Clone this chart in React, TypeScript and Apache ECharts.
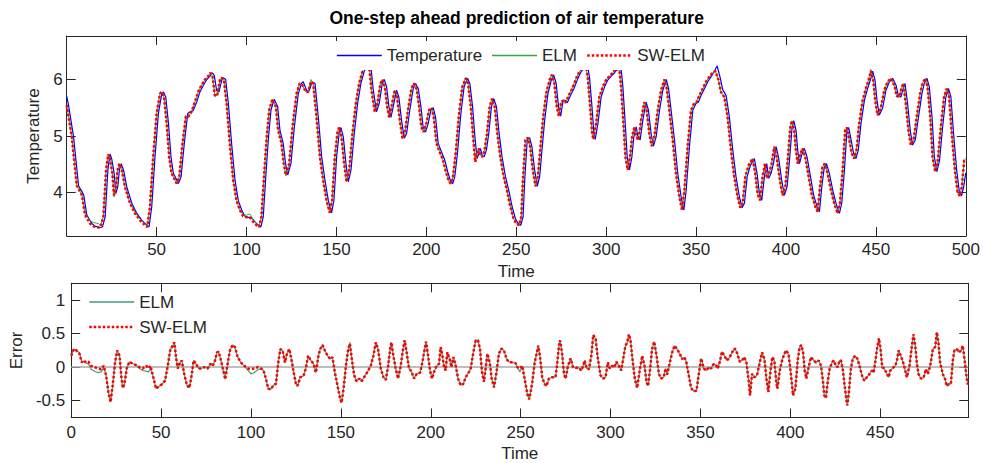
import React, { useEffect, useRef } from 'react';
import * as echarts from 'echarts';

// ---------- DATA ----------
const predTime = [
  0, 2.8, 5.6, 7.4, 8.5, 10.2, 13, 14.8, 17.6, 18.9,
  20.4, 21.9, 23.1, 24, 25.4, 26.3, 27.4, 28.3, 29.3, 30.6,
  32.4, 35.2, 38, 40.7, 43.5, 44.8, 46.3, 48.1, 50, 51.9,
  52.8, 54.1, 55.6, 57, 58.3, 60.2, 61.1, 62.6, 64.4, 66.3,
  67.6, 69.4, 71.3, 73.1, 75, 76.9, 78.7, 80, 81.1, 82.4,
  83.7, 85.2, 86.1, 87.4, 88.9, 90.7, 92.6, 94.4, 96.3, 98.1,
  100, 101.9, 103.7, 105.6, 107, 108.3, 109.6, 111.1, 112.6, 114.4,
  116.3, 117.6, 119.4, 120.7, 121.9, 123.7, 125.6, 127.8, 129.6, 131,
  133, 134.3, 135.8, 137.1, 138.9, 140.8, 142.6, 144.5, 146.3, 147.6,
  149.1, 150.6, 151.5, 152.8, 154.3, 155.6, 157.1, 158.9, 160.8, 162.6,
  164.5, 165.8, 168.2, 169.5, 171.3, 172.8, 174.5, 175.6, 176.9, 178.2,
  179.3, 180.6, 182.4, 183.7, 185.2, 186.7, 188, 189.8, 191.7, 193,
  194.5, 196, 197.2, 198.5, 200, 201.5, 202.8, 204.1, 205.6, 207.4,
  209.3, 211.1, 212.6, 213.7, 214.8, 216.3, 218.2, 220, 221.9, 223.2,
  224.7, 226, 227.2, 228.2, 229.1, 230, 231.1, 232.4, 233.7, 235.2,
  236.5, 238, 239.5, 241.1, 243, 244.8, 246.7, 248.5, 250, 251.5,
  252.8, 253.7, 255.1, 256.4, 257.7, 259.2, 260.7, 262, 263.3, 264.8,
  266.6, 268.5, 269.8, 271.2, 272.5, 273.7, 274.9, 276.2, 277.4, 279.2,
  281.1, 283.3, 285.1, 287, 288.8, 289.8, 291.1, 292.2, 292.9, 294.4,
  296.2, 298.1, 299.9, 301.8, 303.7, 305.5, 307.4, 308.3, 309.6, 310.7,
  312, 313.3, 314.4, 315.7, 316.6, 317.9, 319.4, 321.2, 322.5, 324,
  325.3, 326.8, 328.7, 330.5, 332.4, 333.7, 335.1, 337, 338.8, 340.7,
  342.2, 343.5, 345.3, 347.2, 349, 350.3, 351.8, 353.7, 355.5, 357.4,
  359.2, 360.7, 362.5, 363.8, 365.7, 367.5, 369.4, 371.2, 373.1, 374.6,
  375.9, 377.4, 379.2, 381.4, 382.9, 384.2, 385.5, 387, 388.3, 389.4,
  390.7, 392, 393.5, 394.8, 396.6, 398.1, 399.6, 401.1, 402.4, 403.3,
  404.6, 405.5, 406.5, 407.7, 409.2, 410.7, 412.6, 414.4, 416.3, 417.6,
  418.9, 420.3, 421.5, 423.1, 425, 426.8, 428.7, 430, 431.5, 432.9,
  433.9, 435.2, 436.6, 437.9, 439.2, 440.7, 442.6, 444.4, 445.9, 447.2,
  448.5, 449.6, 450.9, 452.7, 454.6, 456.5, 458.3, 460.2, 461.5, 462.9,
  464.2, 465.2, 466.6, 468.1, 469.4, 470.9, 472.7, 474.6, 475.9, 477.4,
  478.7, 480.2, 481.5, 482.9, 484.4, 486.1, 487.9, 489.4, 490.7, 492.2,
  493.9, 495.4, 496.6, 497.8, 499.1, 500
];

const swelmTemp = [
  5.55, 4.99, 4.12, 4.02, 3.95, 3.60, 3.45, 3.40, 3.38, 3.39,
  3.57, 4.40, 4.68, 4.60, 4.34, 3.95, 4.10, 4.40, 4.51, 4.40,
  4.10, 3.81, 3.63, 3.51, 3.42, 3.39, 3.75, 4.63, 5.40, 5.75,
  5.78, 5.69, 5.22, 4.63, 4.34, 4.22, 4.16, 4.28, 4.87, 5.35,
  5.34, 5.43, 5.60, 5.78, 5.90, 6.00, 6.06, 6.12, 6.05, 5.71,
  5.72, 5.99, 6.03, 6.00, 5.58, 4.87, 4.22, 3.86, 3.69, 3.58,
  3.56, 3.56, 3.48, 3.42, 3.39, 3.57, 4.22, 4.93, 5.46, 5.65,
  5.52, 5.10, 4.87, 4.51, 4.31, 4.51, 5.16, 5.75, 5.93, 5.90,
  5.78, 5.78, 5.96, 5.93, 5.34, 4.63, 4.22, 3.86, 3.64, 3.86,
  4.63, 5.07, 5.15, 4.99, 4.51, 4.19, 4.40, 5.04, 5.58, 5.93,
  6.15, 6.22, 6.22, 5.81, 5.43, 5.58, 5.93, 6.00, 5.87, 5.52,
  5.33, 5.52, 5.81, 5.69, 5.28, 4.96, 5.04, 5.46, 5.84, 5.93,
  5.84, 5.52, 5.16, 5.07, 5.22, 5.46, 5.50, 5.34, 4.87, 4.72,
  4.57, 4.34, 4.19, 4.16, 4.28, 4.69, 5.40, 5.87, 6.02, 5.93,
  5.52, 4.99, 4.54, 4.69, 4.78, 4.66, 4.63, 4.75, 5.04, 5.52,
  5.66, 5.52, 5.04, 4.63, 4.28, 4.04, 3.75, 3.54, 3.45, 3.42,
  3.57, 4.22, 4.93, 4.97, 4.81, 4.40, 4.11, 4.28, 4.75, 5.28,
  5.75, 5.99, 6.08, 5.93, 5.52, 5.35, 5.60, 5.63, 5.59, 5.72,
  5.84, 6.02, 6.14, 6.22, 6.22, 6.02, 5.52, 5.04, 4.94, 5.22,
  5.69, 5.87, 5.99, 6.06, 6.12, 6.20, 6.16, 5.87, 5.22, 4.63,
  4.40, 4.63, 4.99, 5.16, 5.00, 4.93, 5.28, 5.60, 5.46, 5.04,
  4.82, 4.99, 5.46, 5.81, 6.00, 5.84, 5.46, 4.93, 4.34, 3.92,
  3.69, 4.04, 4.81, 5.46, 5.58, 5.60, 5.72, 5.84, 5.96, 6.05,
  6.12, 6.15, 5.99, 5.78, 5.69, 5.34, 4.75, 4.28, 3.92, 3.73,
  3.81, 4.28, 4.48, 4.60, 4.34, 3.98, 3.86, 4.28, 4.51, 4.25,
  4.34, 4.51, 4.81, 4.63, 4.22, 3.95, 4.10, 4.63, 5.16, 5.27,
  5.10, 4.75, 4.51, 4.66, 4.78, 4.63, 4.28, 3.95, 3.75, 3.66,
  4.10, 4.45, 4.51, 4.34, 4.04, 3.81, 3.63, 3.81, 4.40, 5.10,
  5.15, 4.93, 4.69, 4.60, 4.75, 5.22, 5.63, 5.84, 5.99, 6.15,
  5.99, 5.63, 5.37, 5.49, 5.81, 5.96, 6.02, 5.90, 5.71, 5.69,
  5.84, 5.93, 5.58, 5.10, 4.84, 4.93, 5.34, 5.75, 5.93, 6.02,
  5.87, 5.34, 4.63, 4.37, 4.57, 5.16, 5.69, 5.84, 5.69, 5.04,
  4.40, 4.01, 3.94, 4.10, 4.57, 4.60
];

const elmTemp = [
  5.55, 4.99, 4.12, 4.02, 3.95, 3.62, 3.50, 3.47, 3.45, 3.42,
  3.57, 4.40, 4.66, 4.60, 4.34, 3.92, 4.10, 4.40, 4.51, 4.40,
  4.10, 3.81, 3.65, 3.53, 3.44, 3.40, 3.75, 4.63, 5.40, 5.75,
  5.78, 5.69, 5.22, 4.63, 4.34, 4.22, 4.16, 4.28, 4.87, 5.35,
  5.34, 5.43, 5.60, 5.78, 5.90, 6.00, 6.06, 6.12, 6.05, 5.71,
  5.72, 5.99, 6.03, 6.00, 5.58, 4.87, 4.22, 3.86, 3.69, 3.60,
  3.60, 3.62, 3.52, 3.44, 3.40, 3.57, 4.22, 4.93, 5.46, 5.65,
  5.52, 5.10, 4.87, 4.51, 4.29, 4.51, 5.16, 5.75, 5.93, 5.90,
  5.78, 5.78, 6.00, 5.93, 5.34, 4.63, 4.22, 3.86, 3.64, 3.86,
  4.63, 5.07, 5.15, 4.99, 4.51, 4.19, 4.40, 5.04, 5.58, 5.93,
  6.15, 6.22, 6.22, 5.81, 5.43, 5.58, 5.93, 6.00, 5.87, 5.52,
  5.33, 5.52, 5.81, 5.69, 5.28, 4.96, 5.04, 5.46, 5.84, 5.93,
  5.84, 5.52, 5.16, 5.07, 5.22, 5.46, 5.50, 5.34, 4.87, 4.72,
  4.57, 4.34, 4.19, 4.16, 4.28, 4.69, 5.40, 5.87, 6.04, 5.93,
  5.52, 4.99, 4.54, 4.69, 4.78, 4.66, 4.63, 4.75, 5.04, 5.52,
  5.66, 5.52, 5.04, 4.63, 4.28, 4.04, 3.75, 3.54, 3.45, 3.42,
  3.57, 4.22, 4.93, 4.97, 4.81, 4.40, 4.11, 4.28, 4.75, 5.28,
  5.75, 5.99, 6.10, 5.93, 5.52, 5.35, 5.60, 5.63, 5.59, 5.72,
  5.84, 6.02, 6.14, 6.22, 6.22, 6.02, 5.52, 5.04, 4.94, 5.22,
  5.69, 5.87, 5.99, 6.06, 6.12, 6.20, 6.16, 5.87, 5.22, 4.63,
  4.40, 4.63, 4.99, 5.16, 5.00, 4.93, 5.28, 5.60, 5.46, 5.04,
  4.82, 4.99, 5.46, 5.81, 6.00, 5.84, 5.46, 4.93, 4.34, 3.92,
  3.69, 4.04, 4.81, 5.46, 5.58, 5.60, 5.72, 5.84, 5.96, 6.05,
  6.12, 6.15, 5.99, 5.78, 5.69, 5.34, 4.75, 4.28, 3.92, 3.73,
  3.81, 4.28, 4.48, 4.60, 4.34, 3.98, 3.86, 4.28, 4.51, 4.25,
  4.34, 4.51, 4.81, 4.63, 4.22, 3.95, 4.10, 4.63, 5.16, 5.27,
  5.10, 4.75, 4.51, 4.66, 4.78, 4.63, 4.28, 3.95, 3.75, 3.66,
  4.10, 4.45, 4.51, 4.34, 4.04, 3.81, 3.63, 3.81, 4.40, 5.10,
  5.15, 4.93, 4.69, 4.60, 4.75, 5.22, 5.63, 5.84, 5.99, 6.18,
  5.99, 5.63, 5.37, 5.49, 5.81, 5.96, 6.02, 5.90, 5.71, 5.69,
  5.84, 5.93, 5.58, 5.10, 4.84, 4.93, 5.34, 5.75, 5.93, 6.02,
  5.87, 5.34, 4.63, 4.37, 4.57, 5.16, 5.69, 5.84, 5.69, 5.04,
  4.40, 4.01, 3.94, 4.10, 4.57, 4.60
];

// measured temperature: [time, value]
const temperature = [
  [0, 5.70], [1, 5.55], [3.8, 4.99], [6.6, 4.12], [8.4, 4.02], [9.5, 3.95], [11.2, 3.60], [14, 3.45], [15.8, 3.40], [18.6, 3.38],
  [19.9, 3.39], [21.4, 3.57], [22.9, 4.40], [24.1, 4.68], [25, 4.60], [26.4, 4.34], [27.3, 3.98], [28.4, 4.10], [29.3, 4.40], [30.3, 4.51],
  [31.6, 4.40], [33.4, 4.10], [36.2, 3.81], [39, 3.63], [41.7, 3.51], [44.5, 3.42], [45.8, 3.39], [47.3, 3.75], [49.1, 4.63], [51, 5.40],
  [52.9, 5.75], [53.8, 5.78], [55.1, 5.69], [56.6, 5.22], [58, 4.63], [59.3, 4.34], [61.2, 4.22], [62.1, 4.16], [63.6, 4.28], [65.4, 4.87],
  [67.3, 5.40], [68.6, 5.43], [70.4, 5.45], [72.3, 5.60], [74.1, 5.78], [76, 5.90], [77.9, 6.00], [79.7, 6.06], [81, 6.12], [82.1, 6.07],
  [83.4, 5.80], [84.7, 5.78], [86.2, 5.99], [87.1, 6.03], [88.4, 6.00], [89.9, 5.58], [91.7, 4.87], [93.6, 4.22], [95.4, 3.86], [97.3, 3.69],
  [99.1, 3.58], [101, 3.56], [102.9, 3.55], [104.7, 3.48], [106.6, 3.42], [108, 3.39], [109.3, 3.57], [110.6, 4.22], [112.1, 4.93], [113.6, 5.46],
  [115.4, 5.65], [117.3, 5.52], [118.6, 5.10], [120.4, 4.87], [121.7, 4.51], [122.9, 4.31], [124.7, 4.51], [126.6, 5.16], [128.8, 5.75], [130.6, 5.93],
  [131.5, 5.96], [133.5, 5.80], [134.8, 5.80], [136.5, 5.96], [138.1, 5.93], [139.9, 5.34], [141.8, 4.63], [143.6, 4.22], [145.5, 3.86], [147.3, 3.64],
  [148.6, 3.86], [150.1, 4.63], [151.6, 5.07], [152.5, 5.15], [153.8, 4.99], [155.3, 4.51], [156.6, 4.19], [158.1, 4.40], [159.9, 5.04], [161.8, 5.58],
  [163.6, 5.93], [165.5, 6.15], [166.8, 6.22], [169.2, 6.22], [170.5, 5.81], [172.3, 5.43], [173.8, 5.58], [175.5, 5.93], [176.6, 6.00], [177.9, 5.87],
  [179.2, 5.52], [180.3, 5.33], [181.6, 5.52], [183.4, 5.81], [184.7, 5.69], [186.2, 5.28], [187.7, 4.96], [189, 5.04], [190.8, 5.46], [192.7, 5.84],
  [194, 5.93], [195.5, 5.84], [197, 5.52], [198.2, 5.16], [199.5, 5.07], [201, 5.22], [202.5, 5.46], [203.8, 5.50], [205.1, 5.34], [206.6, 4.87],
  [208.4, 4.72], [210.3, 4.57], [212.1, 4.34], [213.6, 4.19], [214.7, 4.16], [215.8, 4.28], [217.3, 4.69], [219.2, 5.40], [221, 5.87], [222.9, 6.02],
  [224.2, 5.93], [225.7, 5.52], [227, 4.99], [228.2, 4.60], [229.2, 4.69], [230.1, 4.78], [231, 4.66], [232.1, 4.63], [233.4, 4.75], [234.7, 5.04],
  [236.2, 5.52], [237.5, 5.66], [239, 5.52], [240.5, 5.04], [242.1, 4.63], [244, 4.28], [245.8, 4.04], [247.7, 3.75], [249.5, 3.54], [251, 3.45],
  [252.5, 3.42], [253.8, 3.57], [254.7, 4.22], [256.1, 4.93], [257.4, 4.97], [258.7, 4.81], [260.2, 4.40], [261.7, 4.11], [263, 4.28], [264.3, 4.75],
  [265.8, 5.28], [267.6, 5.75], [269.5, 5.99], [270.8, 6.08], [272.2, 5.93], [273.5, 5.52], [274.7, 5.35], [275.9, 5.60], [277.2, 5.63], [278.4, 5.59],
  [280.2, 5.72], [282.1, 5.84], [284.3, 6.02], [286.1, 6.14], [288, 6.22], [289.8, 6.22], [290.8, 6.02], [292.1, 5.52], [293.2, 5.04], [293.9, 4.94],
  [295.4, 5.22], [297.2, 5.69], [299.1, 5.87], [300.9, 5.99], [302.8, 6.06], [304.7, 6.12], [306.5, 6.20], [308.4, 6.16], [309.3, 5.87], [310.6, 5.22],
  [311.7, 4.63], [313, 4.40], [314.3, 4.63], [315.4, 4.99], [316.7, 5.16], [317.6, 5.00], [318.9, 4.93], [320.4, 5.28], [322.2, 5.60], [323.5, 5.46],
  [325, 5.04], [326.3, 4.82], [327.8, 4.99], [329.7, 5.46], [331.5, 5.81], [333.4, 6.00], [334.7, 5.84], [336.1, 5.46], [338, 4.93], [339.8, 4.34],
  [341.7, 3.92], [343.2, 3.69], [344.5, 4.04], [346.3, 4.81], [348.2, 5.46], [350, 5.58], [351.3, 5.60], [352.8, 5.72], [354.7, 5.84], [356.5, 5.96],
  [358.4, 6.05], [360.2, 6.15], [361.7, 6.24], [363.5, 6.02], [364.8, 5.82], [366.7, 5.72], [368.5, 5.34], [370.4, 4.75], [372.2, 4.28], [374.1, 3.92],
  [375.6, 3.73], [376.9, 3.81], [378.4, 4.28], [380.2, 4.48], [382.4, 4.60], [383.9, 4.34], [385.2, 3.98], [386.5, 3.86], [388, 4.28], [389.3, 4.51],
  [390.4, 4.25], [391.7, 4.34], [393, 4.51], [394.5, 4.81], [395.8, 4.63], [397.6, 4.22], [399.1, 3.95], [400.6, 4.10], [402.1, 4.63], [403.4, 5.16],
  [404.3, 5.27], [405.6, 5.10], [406.5, 4.75], [407.5, 4.51], [408.7, 4.66], [410.2, 4.78], [411.7, 4.63], [413.6, 4.28], [415.4, 3.95], [417.3, 3.75],
  [418.6, 3.66], [419.9, 4.10], [421.3, 4.45], [422.5, 4.51], [424.1, 4.34], [426, 4.04], [427.8, 3.81], [429.7, 3.63], [431, 3.81], [432.5, 4.40],
  [433.9, 5.10], [434.9, 5.15], [436.2, 4.93], [437.6, 4.69], [438.9, 4.60], [440.2, 4.75], [441.7, 5.22], [443.6, 5.63], [445.4, 5.84], [446.9, 5.99],
  [448.2, 6.15], [449.5, 5.99], [450.6, 5.63], [451.9, 5.37], [453.7, 5.49], [455.6, 5.81], [457.5, 5.96], [459.3, 6.02], [461.2, 5.90], [462.5, 5.71],
  [463.9, 5.69], [465.2, 5.84], [466.2, 5.93], [467.6, 5.58], [469.1, 5.10], [470.4, 4.84], [471.9, 4.93], [473.7, 5.34], [475.6, 5.75], [476.9, 5.93],
  [478.4, 6.02], [479.7, 5.87], [481.2, 5.34], [482.5, 4.63], [483.9, 4.37], [485.4, 4.57], [487.1, 5.16], [488.9, 5.69], [490.4, 5.84], [491.7, 5.69],
  [493.2, 5.04], [494.9, 4.40], [496.4, 4.01], [497.6, 3.94], [498.8, 4.10], [500, 4.35]
];

const errTime = [
  0, 1.5, 2.8, 4.6, 5.9, 7, 8.3, 9.6, 11.1, 13,
  14.8, 16.7, 18.1, 19.4, 20.7, 21.9, 23.1, 24.4, 25.6, 26.9,
  27.8, 28.7, 29.6, 30.9, 32.4, 34.3, 36.1, 38, 39.8, 41.7,
  43, 44.1, 45.4, 47.2, 49.1, 50.6, 52.2, 53.7, 55.2, 56.5,
  57.4, 58.3, 59.3, 60.6, 61.5, 63, 64.4, 65.7, 67, 68.1,
  69.4, 70.9, 72.2, 74.1, 75.9, 77.4, 78.7, 80, 81.1, 82,
  83.3, 84.6, 85.7, 87, 88.3, 89.8, 91.1, 92.6, 94.4, 96.3,
  98.1, 100, 101.9, 103.7, 105.6, 107, 108.3, 109.6, 111.1, 112.4,
  113.9, 115.2, 116.3, 117.6, 118.9, 120, 121.3, 122.6, 123.7, 125,
  125.9, 127.4, 129.2, 130.5, 131.8, 133.3, 134.8, 136.1, 137.4, 138.5,
  139.8, 141.1, 142.6, 144.1, 145.3, 146.6, 148.1, 149.6, 150.4, 151.5,
  152.8, 154.1, 155, 156.1, 157.4, 158.7, 160.2, 161.5, 162.9, 164.8,
  166.6, 168.1, 169.4, 170.7, 172.2, 173.7, 175, 176.3, 177.4, 178.1,
  179.2, 180.5, 181.8, 183.3, 184.6, 185.5, 186.6, 187.9, 189.2, 190.7,
  192.2, 194.1, 195.3, 196.3, 197.4, 198.5, 199.6, 200.7, 201.8, 203.3,
  204.6, 205.5, 206.5, 207.4, 208.3, 209.2, 210.5, 211.5, 212.6, 213.9,
  215.2, 216.6, 218.1, 219.4, 221.3, 222.2, 223.7, 225, 226.3, 227.4,
  228.5, 229.6, 230.5, 231.5, 232.8, 233.9, 235.2, 236.6, 237.9, 239.2,
  240.7, 242.2, 243.5, 245.4, 247.2, 248.1, 249.6, 250.9, 252.2, 253.7,
  254.8, 256.5, 257.8, 258.9, 259.8, 260.7, 262, 263.3, 264.4, 265.7,
  267.6, 269.4, 270.4, 271.3, 271.9, 273, 274.1, 275, 276.3, 277.8,
  279.1, 280.6, 282.4, 283.7, 284.8, 285.6, 286.7, 288, 289.3, 290.4,
  291.7, 293, 294.4, 295.9, 297.2, 298.5, 299.6, 300.9, 302.2, 303.3,
  304.6, 305.9, 307, 308.3, 309.3, 310.2, 311.1, 312.2, 313.5, 314.8,
  316.1, 317.6, 318.9, 320, 320.9, 322.2, 323.1, 324.3, 325.6, 326.9,
  328.1, 329.6, 330.6, 331.5, 333, 334.3, 335.6, 337, 338.5, 339.8,
  341.1, 342.2, 343.5, 344.8, 346.3, 347.8, 349.1, 350.4, 351.9, 353.3,
  354.6, 355.9, 357.4, 358.9, 359.6, 360.7, 362, 363.3, 364.8, 366.3,
  367.6, 369.1, 370.4, 371.9, 373.1, 374.4, 375.6, 376.9, 377.6, 378.7,
  380, 381.5, 383, 384.3, 385.6, 386.7, 387.8, 388.9, 390, 391.1,
  392.2, 392.8, 394.1, 395.4, 396.7, 397.8, 399.1, 400.4, 401.5, 402.8,
  404.1, 405.2, 406.1, 407.1, 408, 408.9, 410.2, 411.5, 413, 414.3,
  415.8, 417.1, 418.2, 418.9, 419.8, 420.8, 421.9, 423.2, 424.1, 425.4,
  426.3, 427.4, 428.2, 429.3, 430.2, 431.1, 431.7, 432.6, 433.7, 434.8,
  436.1, 437.4, 438.5, 439.8, 441.1, 442.6, 444.1, 445.4, 446.3, 447.2,
  448.2, 449.3, 450.2, 451.1, 452.2, 453.4, 454.7, 455.6, 457.1, 458.4,
  459.3, 460.2, 461.5, 463, 463.9, 464.8, 466.3, 467.4, 468.5, 469.5,
  470.4, 471.3, 472.6, 474.1, 475.4, 476.5, 477.8, 479.3, 480.6, 481.5,
  482.4, 483.3, 484.8, 486.1, 487, 488.3, 489.3, 490.4, 491.3, 492.6,
  493.9, 495, 495.9, 496.9, 497.8, 498.7
];

const swelmErr = [
  0.17, 0.27, 0.25, 0.20, 0.07, 0.10, 0.07, 0.08, 0.02, 0.00,
  -0.02, -0.03, 0.02, -0.12, -0.37, -0.52, -0.27, 0.07, 0.25, 0.17,
  -0.12, -0.31, -0.25, -0.02, 0.08, 0.05, 0.03, 0.00, -0.02, 0.02,
  -0.02, 0.02, -0.12, -0.32, -0.28, -0.25, -0.20, 0.02, 0.27, 0.32,
  0.37, 0.15, -0.02, 0.07, 0.10, -0.12, -0.27, -0.31, -0.12, 0.10,
  0.05, -0.02, -0.02, 0.00, -0.02, 0.05, 0.02, 0.10, 0.22, 0.23,
  0.10, -0.05, -0.18, 0.05, 0.25, 0.33, 0.30, 0.15, 0.07, 0.02,
  -0.02, -0.03, -0.02, 0.00, -0.02, -0.05, -0.17, -0.32, -0.33, -0.27,
  -0.25, 0.07, 0.27, 0.25, 0.07, 0.20, 0.27, 0.10, -0.07, -0.25,
  -0.28, -0.15, -0.13, -0.02, 0.17, 0.10, 0.05, -0.08, 0.15, 0.27,
  0.33, 0.25, 0.17, 0.12, 0.15, -0.07, -0.27, -0.47, -0.53, -0.32,
  0.02, 0.27, 0.35, 0.12, -0.12, -0.21, -0.17, -0.21, -0.15, -0.07,
  0.02, 0.17, 0.37, 0.27, -0.02, -0.15, -0.19, 0.02, 0.27, 0.37,
  0.17, -0.02, -0.17, 0.02, 0.27, 0.40, 0.22, -0.02, -0.06, -0.17,
  -0.10, -0.08, 0.07, 0.22, 0.38, 0.17, -0.05, -0.17, -0.07, 0.02,
  0.05, 0.30, 0.17, 0.00, -0.05, 0.22, 0.12, 0.00, 0.15, 0.02,
  -0.17, -0.27, -0.25, -0.15, -0.07, -0.02, 0.22, 0.40, 0.40, 0.27,
  -0.07, -0.22, -0.02, 0.20, 0.07, -0.17, -0.30, -0.07, 0.20, 0.28,
  0.25, 0.12, 0.08, 0.07, 0.06, 0.00, -0.02, 0.02, -0.17, -0.40,
  -0.48, -0.22, 0.07, 0.20, 0.32, 0.17, -0.15, -0.25, -0.28, -0.17,
  -0.15, -0.15, 0.07, 0.32, 0.40, 0.22, -0.10, -0.17, 0.02, 0.13,
  0.00, -0.01, -0.01, -0.05, 0.02, 0.10, -0.02, -0.03, 0.17, 0.48,
  0.42, 0.12, -0.12, -0.17, -0.15, 0.07, -0.02, 0.02, 0.00, 0.08,
  0.02, -0.05, 0.12, 0.32, 0.37, 0.49, 0.40, 0.12, -0.17, -0.31,
  -0.07, 0.17, 0.02, -0.22, -0.28, 0.02, 0.27, 0.38, 0.17, -0.10,
  -0.17, -0.15, -0.02, -0.11, 0.07, 0.22, 0.32, 0.27, 0.20, 0.12,
  0.15, 0.07, -0.12, -0.31, -0.36, -0.35, -0.10, 0.13, -0.02, -0.05,
  0.00, -0.02, 0.05, 0.02, -0.02, 0.07, 0.23, 0.17, 0.10, 0.15,
  0.22, 0.28, 0.21, 0.08, 0.10, 0.15, 0.07, -0.22, -0.42, -0.10,
  -0.15, -0.12, 0.07, 0.22, 0.12, -0.17, -0.37, -0.07, 0.15, 0.10,
  -0.22, -0.32, -0.05, 0.10, 0.20, 0.25, 0.18, -0.12, -0.42, -0.32,
  0.10, 0.30, 0.33, 0.22, -0.05, -0.17, 0.00, 0.15, 0.10, 0.07,
  0.10, 0.02, -0.22, -0.42, -0.46, -0.22, -0.02, 0.07, 0.10, 0.02,
  0.00, 0.10, 0.10, -0.05, -0.27, -0.47, -0.57, -0.37, -0.02, 0.13,
  0.17, 0.12, 0.02, -0.12, -0.20, -0.15, -0.10, -0.05, -0.08, 0.07,
  0.27, 0.43, 0.27, 0.00, -0.02, -0.08, -0.15, -0.05, -0.01, 0.02,
  0.10, 0.25, 0.17, 0.05, -0.05, -0.15, 0.02, 0.27, 0.49, 0.32,
  0.05, -0.10, -0.17, -0.16, -0.03, -0.10, 0.02, 0.27, 0.30, 0.52,
  0.37, 0.07, -0.10, -0.18, -0.28, -0.25, -0.25, 0.10, 0.25, 0.27,
  0.22, 0.25, 0.32, 0.12, -0.10, -0.26
];

const elmErr = [
  0.17, 0.27, 0.26, 0.21, 0.08, 0.09, 0.06, 0.05, -0.03, -0.06,
  -0.08, -0.07, 0.00, -0.12, -0.37, -0.52, -0.27, 0.07, 0.25, 0.17,
  -0.12, -0.31, -0.25, -0.02, 0.08, 0.05, 0.03, -0.02, -0.05, -0.06,
  -0.07, -0.02, -0.12, -0.32, -0.28, -0.25, -0.20, 0.02, 0.27, 0.32,
  0.37, 0.15, -0.02, 0.07, 0.10, -0.12, -0.27, -0.31, -0.12, 0.10,
  0.05, -0.02, -0.02, 0.00, -0.02, 0.05, 0.02, 0.10, 0.22, 0.23,
  0.10, -0.05, -0.18, 0.05, 0.25, 0.33, 0.30, 0.15, 0.07, 0.02,
  -0.04, -0.10, -0.08, -0.04, -0.02, -0.05, -0.17, -0.32, -0.33, -0.27,
  -0.25, 0.07, 0.27, 0.25, 0.07, 0.20, 0.27, 0.10, -0.07, -0.25,
  -0.28, -0.15, -0.13, -0.02, 0.17, 0.10, 0.05, -0.08, 0.15, 0.27,
  0.33, 0.25, 0.17, 0.12, 0.15, -0.07, -0.27, -0.47, -0.53, -0.32,
  0.02, 0.27, 0.37, 0.12, -0.12, -0.21, -0.17, -0.21, -0.15, -0.07,
  0.02, 0.17, 0.37, 0.27, -0.02, -0.15, -0.19, 0.02, 0.27, 0.37,
  0.17, -0.02, -0.17, 0.02, 0.27, 0.40, 0.22, -0.02, -0.06, -0.17,
  -0.10, -0.08, 0.07, 0.22, 0.38, 0.17, -0.05, -0.17, -0.07, 0.02,
  0.05, 0.30, 0.17, 0.00, -0.05, 0.22, 0.12, 0.00, 0.15, 0.02,
  -0.17, -0.27, -0.25, -0.15, -0.07, -0.02, 0.22, 0.40, 0.40, 0.27,
  -0.07, -0.22, -0.02, 0.20, 0.07, -0.17, -0.30, -0.07, 0.20, 0.28,
  0.25, 0.12, 0.08, 0.07, 0.06, 0.00, -0.07, 0.02, -0.17, -0.40,
  -0.48, -0.22, 0.07, 0.20, 0.32, 0.17, -0.15, -0.25, -0.28, -0.17,
  -0.15, -0.15, 0.07, 0.32, 0.40, 0.22, -0.10, -0.17, 0.02, 0.13,
  0.00, -0.01, -0.01, -0.05, 0.02, 0.10, -0.02, -0.03, 0.17, 0.48,
  0.42, 0.12, -0.12, -0.17, -0.15, 0.07, -0.02, 0.02, 0.00, 0.08,
  0.02, -0.05, 0.12, 0.32, 0.37, 0.49, 0.40, 0.12, -0.17, -0.31,
  -0.07, 0.17, 0.02, -0.22, -0.28, 0.02, 0.27, 0.38, 0.17, -0.10,
  -0.17, -0.15, -0.02, -0.11, 0.07, 0.22, 0.32, 0.27, 0.20, 0.12,
  0.15, 0.07, -0.12, -0.31, -0.36, -0.35, -0.10, 0.13, -0.02, -0.05,
  0.00, -0.02, 0.05, 0.02, -0.02, 0.07, 0.23, 0.17, 0.10, 0.15,
  0.22, 0.28, 0.21, 0.08, 0.10, 0.15, 0.07, -0.22, -0.42, -0.10,
  -0.15, -0.12, 0.07, 0.22, 0.12, -0.17, -0.37, -0.07, 0.15, 0.10,
  -0.22, -0.32, -0.05, 0.10, 0.20, 0.25, 0.18, -0.12, -0.42, -0.32,
  0.10, 0.30, 0.33, 0.22, -0.05, -0.17, 0.00, 0.15, 0.10, 0.07,
  0.10, 0.02, -0.22, -0.42, -0.46, -0.22, -0.02, 0.07, 0.10, 0.02,
  0.00, 0.10, 0.10, -0.05, -0.27, -0.47, -0.57, -0.37, -0.02, 0.13,
  0.17, 0.12, 0.02, -0.12, -0.20, -0.15, -0.10, -0.05, -0.08, 0.07,
  0.27, 0.43, 0.27, 0.00, -0.02, -0.08, -0.15, -0.05, -0.01, 0.02,
  0.10, 0.25, 0.17, 0.05, -0.05, -0.15, 0.02, 0.27, 0.49, 0.32,
  0.05, -0.10, -0.17, -0.16, -0.03, -0.10, 0.02, 0.27, 0.30, 0.52,
  0.37, 0.07, -0.10, -0.18, -0.28, -0.25, -0.25, 0.10, 0.25, 0.27,
  0.22, 0.25, 0.32, 0.12, -0.10, -0.26
];

const topXTicks = [50, 100, 150, 200, 250, 300, 350, 400, 450, 500];
const topYTicks = [4, 5, 6];
const botXTicks = [0, 50, 100, 150, 200, 250, 300, 350, 400, 450];
const botYTicks = [-0.5, 0, 0.5, 1];

const TITLE = 'One-step ahead prediction of air temperature';

// ---------- STYLE ----------
const FONT = '"Liberation Sans", Arial, Helvetica, sans-serif';
const TXT = '#262626';
const AX = '#262626';
const FS = 17;
const BLUE = '#0000ff';
const GREEN_TOP = '#3aa83a';
const GREEN_ERR = '#4a9a74';
const RED = '#ff0000';
const RED_DASH = [2.5, 2];

function pairs(t: number[], v: number[]) {
  return t.map((x, i) => [x, v[i]]);
}

function xAxis(gridIndex: number, max: number, ticks: number[], position: string, labels: boolean, labelMargin: number, nameGap: number) {
  return {
    gridIndex, type: 'value', min: 0, max, position,
    axisLine: { show: true, onZero: false, lineStyle: { color: AX, width: 1 } },
    axisTick: { show: true, inside: true, length: 9, customValues: ticks, lineStyle: { color: AX, width: 1 } },
    axisLabel: { show: labels, customValues: ticks, margin: labelMargin, fontSize: FS, color: TXT, fontFamily: FONT },
    splitLine: { show: false },
    name: labels ? 'Time' : '',
    nameLocation: 'middle', nameGap,
    nameTextStyle: { fontSize: FS, color: TXT, fontFamily: FONT }
  };
}

function yAxis(gridIndex: number, min: number, max: number, ticks: number[], position: string, labels: boolean, labelMargin: number, name: string, nameGap: number) {
  return {
    gridIndex, type: 'value', min, max, position,
    axisLine: { show: true, onZero: false, lineStyle: { color: AX, width: 1 } },
    axisTick: { show: true, inside: true, length: 9, customValues: ticks, lineStyle: { color: AX, width: 1 } },
    axisLabel: { show: labels, customValues: ticks, margin: labelMargin, fontSize: FS, color: TXT, fontFamily: FONT },
    splitLine: { show: false },
    name: labels ? name : '',
    nameLocation: 'middle', nameGap,
    nameTextStyle: { fontSize: FS, color: TXT, fontFamily: FONT }
  };
}

export default function App() {
  const ref = useRef<HTMLDivElement>(null);

  useEffect(() => {
    if (!ref.current) return;
    const chart = echarts.init(ref.current, undefined, { renderer: 'svg' });
    const option = {
      animation: false,
      backgroundColor: '#ffffff',
      graphic: [
        {
          type: 'text', x: 516.7, y: 17.5, z: 20,
          style: { text: TITLE, fontSize: 17.5, fontWeight: 'bold', fontFamily: FONT, fill: '#000', textAlign: 'center', textVerticalAlign: 'middle' }
        }
      ],
      grid: [
        { left: 66.7, top: 36, width: 900, height: 200 },
        { left: 69, top: 283.3, width: 899.3, height: 135.7 }
      ],
      xAxis: [
        xAxis(0, 500, topXTicks, 'bottom', true, 5, 26.5),
        xAxis(0, 500, topXTicks, 'top', false, 5, 0),
        xAxis(1, 499, botXTicks, 'bottom', true, 6.5, 27.5),
        xAxis(1, 499, botXTicks, 'top', false, 5, 0)
      ],
      yAxis: [
        yAxis(0, 3.23, 6.77, topYTicks, 'left', true, 4, 'Temperature', 22),
        yAxis(0, 3.23, 6.77, topYTicks, 'right', false, 4, '', 0),
        yAxis(1, -0.75, 1.25, botYTicks, 'left', true, 6, 'Error', 42),
        yAxis(1, -0.75, 1.25, botYTicks, 'right', false, 6, '', 0)
      ],
      legend: [
        {
          data: [
            { name: 'Temperature', lineStyle: { color: BLUE, width: 1.6, type: 'solid', opacity: 1 } },
            { name: 'ELM', lineStyle: { color: GREEN_TOP, width: 1.6, type: 'solid', opacity: 1 } },
            { name: 'SW-ELM', lineStyle: { color: RED, width: 2.5, type: RED_DASH, opacity: 1 } }
          ],
          orient: 'horizontal', left: 331, top: 41, padding: [6, 4, 6, 5],
          itemGap: 9, itemWidth: 45, itemHeight: 14, backgroundColor: '#ffffff', z: 10,
          selectedMode: false,
          itemStyle: { opacity: 0, borderWidth: 0 },
          textStyle: { fontSize: FS, color: TXT, fontFamily: FONT, lineHeight: 17 }
        },
        {
          data: [
            { name: 'ELM error', lineStyle: { color: GREEN_ERR, width: 1.6, type: 'solid', opacity: 1 } },
            { name: 'SW-ELM error', lineStyle: { color: RED, width: 2.5, type: RED_DASH, opacity: 1 } }
          ],
          orient: 'vertical', left: 83, top: 288.5, padding: 5,
          itemGap: 8, itemWidth: 45, itemHeight: 14, z: 10,
          selectedMode: false,
          itemStyle: { opacity: 0, borderWidth: 0 },
          formatter: (n: string) => n.replace(' error', ''),
          textStyle: { fontSize: FS, color: TXT, fontFamily: FONT, lineHeight: 17 }
        }
      ],
      series: [
        {
          name: 'Temperature', type: 'line', xAxisIndex: 0, yAxisIndex: 0, data: temperature,
          symbol: 'none', z: 2, itemStyle: { color: BLUE }, lineStyle: { color: BLUE, width: 1.2 }
        },
        {
          name: 'ELM', type: 'line', xAxisIndex: 0, yAxisIndex: 0, data: pairs(predTime, elmTemp),
          symbol: 'none', z: 3, itemStyle: { color: GREEN_TOP }, lineStyle: { color: GREEN_TOP, width: 1 }
        },
        {
          name: 'SW-ELM', type: 'line', xAxisIndex: 0, yAxisIndex: 0, data: pairs(predTime, swelmTemp),
          symbol: 'none', z: 4, itemStyle: { color: RED }, lineStyle: { color: RED, width: 2.5, type: RED_DASH }
        },
        {
          name: 'ELM error', type: 'line', xAxisIndex: 2, yAxisIndex: 2, data: pairs(errTime, elmErr),
          symbol: 'none', z: 3, itemStyle: { color: GREEN_ERR }, lineStyle: { color: GREEN_ERR, width: 1.2 },
          markLine: {
            silent: true, symbol: ['none', 'none'], z: 1, animation: false,
            label: { show: false },
            lineStyle: { color: '#a8a8a8', type: 'solid', width: 1.5 },
            data: [{ yAxis: 0 }]
          }
        },
        {
          name: 'SW-ELM error', type: 'line', xAxisIndex: 2, yAxisIndex: 2, data: pairs(errTime, swelmErr),
          symbol: 'none', z: 4, itemStyle: { color: RED }, lineStyle: { color: RED, width: 2.5, type: RED_DASH }
        }
      ]
    };
    chart.setOption(option as any);
    return () => chart.dispose();
  }, []);

  return (
    <div
      ref={ref}
      style={{ position: 'fixed', left: 0, top: 0, width: 983, height: 463, background: '#fff' }}
    />
  );
}
